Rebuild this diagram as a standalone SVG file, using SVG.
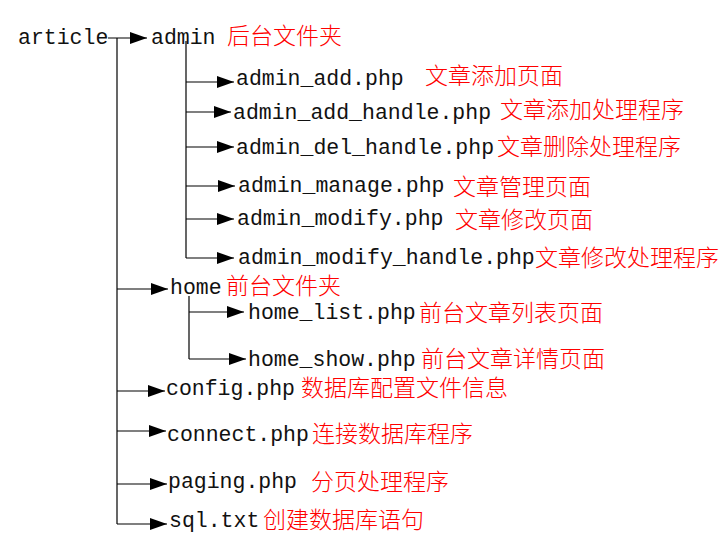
<svg xmlns="http://www.w3.org/2000/svg" width="727" height="557" viewBox="0 0 727 557">
<style>
.en{font-family:"Liberation Mono","DejaVu Sans Mono",monospace;font-size:21.5px;fill:#111}
.zh{font-family:"Noto Sans CJK SC","Noto Sans",sans-serif;font-size:23px;font-weight:300;fill:#ff0000}
.ln{fill:none;stroke:#000;stroke-width:1.2}
.ar{marker-end:url(#ah)}
</style>
<defs>
<marker id="ah" markerUnits="userSpaceOnUse" markerWidth="18" markerHeight="12" viewBox="0 0 17 12" refX="17" refY="6" orient="auto">
<path d="M0,0 L17,6 L0,12 z" fill="#000"/>
</marker>
</defs>
<rect width="727" height="557" fill="#fff"/>
<g id="connectors">
<path class="ln ar" d="M108,38 H147"/>
<path class="ln" d="M117,38 V524"/>
<path class="ln" d="M186,41 V258"/>
<path class="ln ar" d="M186,82 H234"/>
<path class="ln ar" d="M186,112 H231"/>
<path class="ln ar" d="M186,147 H234"/>
<path class="ln ar" d="M186,186 H235"/>
<path class="ln ar" d="M186,219 H234"/>
<path class="ln ar" d="M186,258 H234"/>
<path class="ln ar" d="M117,289 H168"/>
<path class="ln" d="M189,296 V359"/>
<path class="ln ar" d="M189,312 H244"/>
<path class="ln ar" d="M189,359 H246"/>
<path class="ln ar" d="M117,391 H165"/>
<path class="ln ar" d="M117,431 H166"/>
<path class="ln ar" d="M117,484 H167"/>
<path class="ln ar" d="M117,524 H167"/>
</g>
<g id="article"><text class="en" x="18" y="44">article</text></g>
<g id="admin"><text class="en" x="151" y="44">admin</text><text class="zh" x="227" y="44">后台文件夹</text></g>
<g id="admin_add"><text class="en" x="236" y="85">admin_add.php</text><text class="zh" x="425" y="84">文章添加页面</text></g>
<g id="admin_add_handle"><text class="en" x="233" y="119">admin_add_handle.php</text><text class="zh" x="500" y="118">文章添加处理程序</text></g>
<g id="admin_del_handle"><text class="en" x="236" y="154">admin_del_handle.php</text><text class="zh" x="497" y="155">文章删除处理程序</text></g>
<g id="admin_manage"><text class="en" x="238" y="192">admin_manage.php</text><text class="zh" x="453" y="195">文章管理页面</text></g>
<g id="admin_modify"><text class="en" x="237" y="225">admin_modify.php</text><text class="zh" x="455" y="228">文章修改页面</text></g>
<g id="admin_modify_handle"><text class="en" x="238" y="264">admin_modify_handle.php</text><text class="zh" x="535" y="266">文章修改处理程序</text></g>
<g id="home"><text class="en" x="170" y="294">home</text><text class="zh" x="226" y="294">前台文件夹</text></g>
<g id="home_list"><text class="en" x="248" y="319">home_list.php</text><text class="zh" x="419" y="321">前台文章列表页面</text></g>
<g id="home_show"><text class="en" x="248" y="366">home_show.php</text><text class="zh" x="421" y="367">前台文章详情页面</text></g>
<g id="config"><text class="en" x="166" y="395">config.php</text><text class="zh" x="301" y="396">数据库配置文件信息</text></g>
<g id="connect"><text class="en" x="167" y="441">connect.php</text><text class="zh" x="312" y="442">连接数据库程序</text></g>
<g id="paging"><text class="en" x="168" y="488">paging.php</text><text class="zh" x="311" y="490">分页处理程序</text></g>
<g id="sql"><text class="en" x="169" y="527">sql.txt</text><text class="zh" x="263" y="528">创建数据库语句</text></g>
</svg>
